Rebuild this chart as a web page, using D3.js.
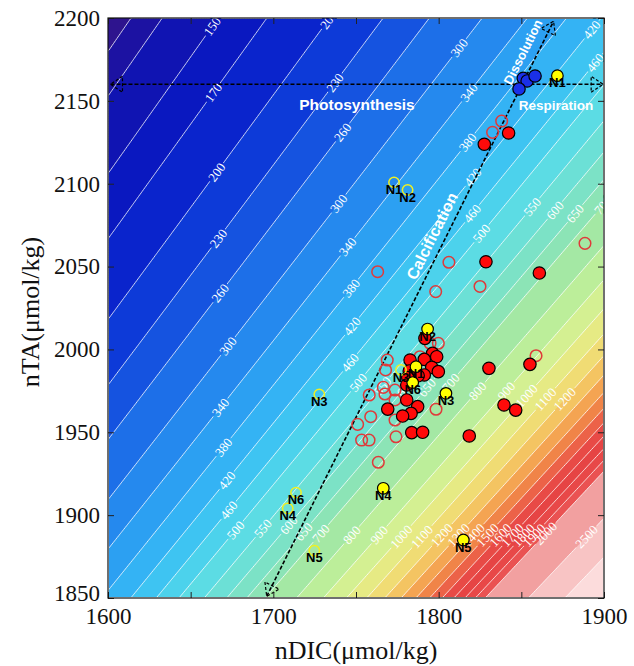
<!DOCTYPE html>
<html><head><meta charset="utf-8">
<script src="https://cdn.jsdelivr.net/npm/d3@7"></script>
<style>body{margin:0;background:#fff}</style>
</head><body>
<svg id="chart" width="634" height="666"></svg>
<script>
// ---------- data ----------
const xDomain = [1600, 1900];
const yDomain = [1850, 2200];
const xTickValues = [1600, 1650, 1700, 1750, 1800, 1850, 1900];
const yTickValues = [1850, 1900, 1950, 2000, 2050, 2100, 2150, 2200];
const contourLevels = [120, 130, 150, 170, 200, 230, 260, 300, 340, 380, 420, 460, 500, 550, 600, 650, 700, 800, 900, 1000, 1100, 1200, 1300, 1400, 1500, 1600, 1700, 1800, 1900, 2000, 2500, 3000];
const bandColors = ["#2e148e", "#1c12a2", "#1014b2", "#0a18c0", "#0a24cc", "#0d3ad8", "#1553e0", "#1d6fe8", "#2589ee", "#2ca0f2", "#34b3f4", "#3ec4f2", "#4cd2ec", "#5cdce4", "#6ce0d6", "#7ce2c6", "#8ce4b6", "#a4e8a4", "#bcee9a", "#d4f092", "#e6ea84", "#f0dc74", "#f4c462", "#f4a452", "#f08448", "#ec6248", "#e84a46", "#e64444", "#e84848", "#ea5252", "#f2a0a0", "#f8c4c4", "#fcdcdc"];
// contour label anchors: [level, nTA]
const labelsRowA = [[150,2195],[170,2155],[200,2107],[230,2067],[260,2034],[300,2002],[340,1965],[380,1941],[420,1921],[460,1903]];
const labelsRowB = [[500,1891],[550,1892],[600,1894],[650,1890],[700,1889],[800,1888],[900,1888],[1000,1887],[1100,1887],[1200,1888],[1300,1888],[1400,1888],[1500,1888],[1600,1888],[1700,1888],[1800,1888],[1900,1888],[2000,1889],[2500,1887]];
const labelsRowC = [[300,2182],[340,2155],[380,2125],[420,2104],[460,2082],[500,2070],[550,2086],[600,2084],[650,2082],[700,2087]];
const labelsRowD = [[200,2199],[230,2161],[260,2131],[300,2088],[340,2062],[380,2037],[420,2014],[460,1992],[500,1980],[550,1978],[600,1977],[650,1977],[700,1980],[800,1975],[900,1975],[1000,1972],[1100,1970],[1200,1970]];
const labelsRowE = [[420,2193],[460,2173]];
// samples [nDIC, nTA]
const openRed = [[1832.6,2131.0],[1838.1,2137.8],[1763.1,2046.9],[1806.2,2052.6],[1888.5,2064.0],[1798.2,2034.9],[1825.0,2038.0],[1858.9,1996.2],
  [1794.8,2003.7],[1799.8,2003.7],[1788.7,1995.6],[1768.9,1993.6],[1767.9,1987.6],[1766.5,1977.1],[1767.5,1973.1],[1773.6,1975.5],[1773.6,1969.5],
  [1758.0,1972.5],[1758.9,1959.4],[1751.0,1954.8],[1798.4,1963.9],[1773.6,1957.4],[1774.2,1947.3],[1753.4,1945.3],[1757.9,1945.3],[1763.5,1931.9]];
const filledRed = [[1827.6,2123.8],[1842.3,2130.6],[1828.6,2052.9],[1860.9,2046.1],[1855.2,1991.0],[1830.4,1988.6],
  [1791.7,2006.7],[1796.3,1997.6],[1798.8,1995.6],[1791.3,1994.0],[1782.7,1993.6],[1795.8,1989.2],[1799.8,1986.6],[1791.3,1984.6],
  [1787.6,1984.1],[1782.2,1987.0],[1781.3,1983.0],[1780.7,1978.5],[1780.7,1969.5],[1787.3,1965.5],[1783.3,1961.4],[1778.2,1959.8],[1769.2,1964.0],
  [1783.7,1949.8],[1790.3,1950.0],[1818.5,1947.8],[1839.5,1966.5],[1846.6,1963.4]];
const blueFilled = [[1851.2,2163.6],[1853.5,2162.0],[1858.3,2165.0],[1848.6,2157.2]];
const yellowFilled = [[1871.8,2165.2],[1793.3,2012.3],[1786.3,1989.6],[1784.3,1980.0],[1804.4,1973.5],[1766.5,1916.2],[1814.9,1885.0]];
const yellowFilledNames = ["N1","N2","N1","N6","N3","N4","N5"];
const yellowOpen = [[1773.0,2100.8],[1781.2,2096.2],[1777.2,1987.6],[1727.8,1972.9],[1713.7,1913.6],[1708.7,1904.0],[1724.8,1878.5]];
const yellowOpenNames = ["N1","N2","N3","N3","N6","N4","N5"];
// process vectors: [[start nDIC, nTA],[end nDIC, nTA]]
const photoRespLine = [[1601.5,2160],[1899.5,2160]];
const calcDissLine = [[1696,1851],[1869.5,2198]];
// model settings (temperature °C, salinity)
const tempC = 29, salinity = 35;

// ---------- layout ----------
const M = {left:108, top:18, right:604, bottom:598};
const W = M.right - M.left, H = M.bottom - M.top;
const svg = d3.select("#chart");
const x = d3.scaleLinear().domain(xDomain).range([M.left, M.right]);
const y = d3.scaleLinear().domain(yDomain).range([M.bottom, M.top]);

// ---------- carbonate chemistry ----------
const C = (function(tc, s){
  const T = tc + 273.15, lnT = Math.log(T), sq = Math.sqrt(s);
  return {
    K0: Math.exp(-60.2409 + 93.4517*(100/T) + 23.3585*Math.log(T/100) + s*(0.023517 - 0.023656*(T/100) + 0.0047036*(T/100)*(T/100))),
    K1: Math.pow(10, -(3633.86/T - 61.2172 + 9.6777*lnT - 0.011555*s + 0.0001152*s*s)),
    K2: Math.pow(10, -(471.78/T + 25.929 - 3.16967*lnT - 0.01781*s + 0.0001122*s*s)),
    KB: Math.exp((-8966.90 - 2890.53*sq - 77.942*s + 1.728*s*sq - 0.0996*s*s)/T + 148.0248 + 137.1942*sq + 1.62142*s - (24.4344 + 25.085*sq + 0.2474*s)*lnT + 0.053105*sq*T),
    Kw: Math.exp(148.9802 - 13847.26/T - 23.6521*lnT + (118.67/T - 5.977 + 1.0495*lnT)*sq - 0.01615*s),
    BT: 0.0004157*s/35
  };
})(tempC, salinity);
function pco2(dic, ta){
  const D = dic*1e-6, A = ta*1e-6;
  let lo = 5, hi = 11, H = 1e-8;
  for (let i=0;i<42;i++){
    const pH = (lo+hi)/2; H = Math.pow(10, -pH);
    const den = H*H + C.K1*H + C.K1*C.K2;
    const alk = D*(C.K1*H + 2*C.K1*C.K2)/den + C.BT*C.KB/(C.KB+H) + C.Kw/H - H;
    if (alk > A) hi = pH; else lo = pH;
  }
  const co2 = D*H*H/(H*H + C.K1*H + C.K1*C.K2);
  return co2/C.K0*1e6;
}
function solveDIC(level, ta){
  let lo = 1200, hi = 2300;
  for (let i=0;i<40;i++){ const m=(lo+hi)/2; if (pco2(m,ta) > level) hi=m; else lo=m; }
  return (lo+hi)/2;
}

// ---------- field ----------
const nx = 300, ny = 350;
const values = new Float64Array(nx*ny);
for (let j=0;j<ny;j++){
  const ta = yDomain[1] - (j+0.5)*(yDomain[1]-yDomain[0])/ny;
  for (let i=0;i<nx;i++){
    const dic = xDomain[0] + (i+0.5)*(xDomain[1]-xDomain[0])/nx;
    values[i + j*nx] = pco2(dic, ta);
  }
}
const contours = d3.contours().size([nx, ny]).thresholds(contourLevels)(values);
const proj = d3.geoTransform({point(px, py){ this.stream.point(M.left + px*W/nx, M.top + py*H/ny); }});
const path = d3.geoPath(proj);

const defs = svg.append("defs");
defs.append("clipPath").attr("id","plotclip").append("rect")
  .attr("x",M.left).attr("y",M.top).attr("width",W).attr("height",H);

// label geometry
const allLabels = [].concat(labelsRowA, labelsRowB, labelsRowC, labelsRowD, labelsRowE).map(([lev, ta]) => {
  const dic = solveDIC(lev, ta);
  const h = 0.5;
  const dpx = (pco2(dic+h,ta)-pco2(dic-h,ta))/(2*h) / (W/(xDomain[1]-xDomain[0]));
  const dpy = -(pco2(dic,ta+h)-pco2(dic,ta-h))/(2*h) / (H/(yDomain[1]-yDomain[0]));
  let ang = Math.atan2(dpx, -dpy) * 180/Math.PI;
  if (ang > 90) ang -= 180; if (ang <= -90) ang += 180;
  return {lev, px: x(dic), py: y(ta), ang, w: String(lev).length*6.6 + 3};
});
const mask = defs.append("mask").attr("id","lblmask").attr("maskUnits","userSpaceOnUse")
  .attr("x",0).attr("y",0).attr("width",634).attr("height",666);
mask.append("rect").attr("x",0).attr("y",0).attr("width",634).attr("height",666).attr("fill","#fff");
mask.selectAll("rect.g").data(allLabels).enter().append("rect").attr("class","g")
  .attr("x", d => -d.w/2).attr("y",-6).attr("width", d => d.w).attr("height",12).attr("fill","#000")
  .attr("transform", d => `translate(${d.px},${d.py}) rotate(${d.ang})`);

const plot = svg.append("g").attr("clip-path","url(#plotclip)");
plot.append("rect").attr("x",M.left).attr("y",M.top).attr("width",W).attr("height",H).attr("fill",bandColors[0]);
plot.append("g").selectAll("path").data(contours).enter().append("path")
  .attr("d", path).attr("fill", (d,i) => bandColors[i+1]).attr("stroke","none");
plot.append("g").attr("mask","url(#lblmask)").selectAll("path").data(contours).enter().append("path")
  .attr("d", path).attr("fill","none").attr("stroke","#fff").attr("stroke-width",0.9).attr("stroke-opacity",0.9);
plot.append("g").selectAll("text").data(allLabels).enter().append("text")
  .attr("transform", d => `translate(${d.px},${d.py}) rotate(${d.ang})`)
  .attr("text-anchor","middle").attr("dy","0.35em")
  .attr("font-family","'Liberation Serif', 'DejaVu Serif', serif").attr("font-size",13)
  .attr("fill","#fff").text(d => d.lev);

// ---------- process vectors ----------
function arrowHead(g, tip, from){
  const tx = x(tip[0]), ty = y(tip[1]), fx = x(from[0]), fy = y(from[1]);
  const L = Math.hypot(tx-fx, ty-fy), ux = (tx-fx)/L, uy = (ty-fy)/L;
  const len = 12, hw = 8;
  const bx = tx - ux*len, by = ty - uy*len;
  const p1 = [bx - uy*hw, by + ux*hw], p2 = [bx + uy*hw, by - ux*hw];
  g.append("path").attr("d", `M${p1[0]},${p1[1]}L${tx},${ty}L${p2[0]},${p2[1]}Z`)
    .attr("fill","none").attr("stroke","#000").attr("stroke-width",1.2).attr("stroke-dasharray","3,2");
}
const vec = plot.append("g");
[photoRespLine, calcDissLine].forEach(seg => {
  vec.append("line").attr("x1",x(seg[0][0])).attr("y1",y(seg[0][1])).attr("x2",x(seg[1][0])).attr("y2",y(seg[1][1]))
    .attr("stroke","#000").attr("stroke-width",1.6).attr("stroke-dasharray","4,2");
  arrowHead(vec, seg[0], seg[1]);
  arrowHead(vec, seg[1], seg[0]);
});
const vtxt = plot.append("g").attr("font-family","'Liberation Sans', Arial, sans-serif").attr("font-weight","bold").attr("fill","#fff");
vtxt.append("text").attr("x",357).attr("y",105).attr("dy","0.35em").attr("text-anchor","middle").attr("font-size",15.5).text("Photosynthesis");
vtxt.append("text").attr("x",556).attr("y",105).attr("dy","0.35em").attr("text-anchor","middle").attr("font-size",13.5).text("Respiration");
const calAng = Math.atan2(y(calcDissLine[1][1])-y(calcDissLine[0][1]), x(calcDissLine[1][0])-x(calcDissLine[0][0]))*180/Math.PI;
vtxt.append("text").attr("transform",`translate(432,236) rotate(${calAng})`).attr("dy","0.35em").attr("text-anchor","middle").attr("font-size",16).text("Calcification");
vtxt.append("text").attr("transform",`translate(523,52) rotate(${calAng})`).attr("dy","0.35em").attr("text-anchor","middle").attr("font-size",13).text("Dissolution");

// ---------- samples ----------
const pts = plot.append("g");
pts.selectAll("circle.or").data(openRed).enter().append("circle").attr("class","or")
  .attr("cx", d => x(d[0])).attr("cy", d => y(d[1])).attr("r",5.8)
  .attr("fill","none").attr("stroke","#e03a3a").attr("stroke-width",1.5);
pts.selectAll("circle.fr").data(filledRed).enter().append("circle").attr("class","fr")
  .attr("cx", d => x(d[0])).attr("cy", d => y(d[1])).attr("r",6.2)
  .attr("fill","#ff0a0a").attr("stroke","#000").attr("stroke-width",1.2);
pts.selectAll("circle.bl").data(blueFilled).enter().append("circle").attr("class","bl")
  .attr("cx", d => x(d[0])).attr("cy", d => y(d[1])).attr("r",6.2)
  .attr("fill","#1a30e8").attr("stroke","#000").attr("stroke-width",1.2);
pts.selectAll("circle.yo").data(yellowOpen).enter().append("circle").attr("class","yo")
  .attr("cx", d => x(d[0])).attr("cy", d => y(d[1])).attr("r",5.2)
  .attr("fill","none").attr("stroke","#f0f020").attr("stroke-width",1.5);
pts.selectAll("circle.yf").data(yellowFilled).enter().append("circle").attr("class","yf")
  .attr("cx", d => x(d[0])).attr("cy", d => y(d[1])).attr("r",5.8)
  .attr("fill","#ffff00").attr("stroke","#000").attr("stroke-width",1.2);
const nl = plot.append("g").attr("font-family","'Liberation Sans', Arial, sans-serif").attr("font-weight","bold").attr("font-size",13).attr("fill","#000").attr("text-anchor","middle");
yellowOpen.forEach((d,i) => nl.append("text").attr("x",x(d[0])).attr("y",y(d[1])+7).attr("dy","0.35em").text(yellowOpenNames[i]));
yellowFilled.forEach((d,i) => nl.append("text").attr("x",x(d[0])).attr("y",y(d[1])+7).attr("dy","0.35em").text(yellowFilledNames[i]));

// ---------- axes ----------
const font = "'Liberation Serif', 'Times New Roman', serif";
const fmt = d3.format("d");
const ax = svg.append("g").attr("transform",`translate(0,${M.bottom})`)
  .call(d3.axisBottom(x).tickValues(xTickValues).tickSizeInner(-6).tickSizeOuter(0).tickPadding(10).tickFormat(d => d%100===0 ? fmt(d) : ""));
const axT = svg.append("g").attr("transform",`translate(0,${M.top})`)
  .call(d3.axisTop(x).tickValues(xTickValues).tickSizeInner(-6).tickSizeOuter(0).tickFormat(""));
const ay = svg.append("g").attr("transform",`translate(${M.left},0)`)
  .call(d3.axisLeft(y).tickValues(yTickValues).tickSizeInner(-6).tickSizeOuter(0).tickPadding(8).tickFormat(fmt));
const ayR = svg.append("g").attr("transform",`translate(${M.right},0)`)
  .call(d3.axisRight(y).tickValues(yTickValues).tickSizeInner(-6).tickSizeOuter(0).tickFormat(""));
[ax, axT, ay, ayR].forEach(g => {
  g.select(".domain").remove();
  g.selectAll("line").attr("stroke","#222");
  g.selectAll("text").attr("font-family", font).attr("font-size",23).attr("fill","#111");
});
ay.selectAll(".tick").filter(d => d === 1850).select("text").attr("dy","0.1em");
svg.append("rect").attr("x",M.left).attr("y",M.top).attr("width",W).attr("height",H)
  .attr("fill","none").attr("stroke","#111").attr("stroke-width",1.2);
svg.append("text").attr("x",356).attr("y",650).attr("dy","0.35em").attr("text-anchor","middle")
  .attr("font-family",font).attr("font-size",26).attr("fill","#111").text("nDIC(μmol/kg)");
svg.append("text").attr("transform","translate(30,312) rotate(-90)").attr("dy","0.35em").attr("text-anchor","middle")
  .attr("font-family",font).attr("font-size",26).attr("fill","#111").text("nTA(μmol/kg)");
</script>
</body></html>
